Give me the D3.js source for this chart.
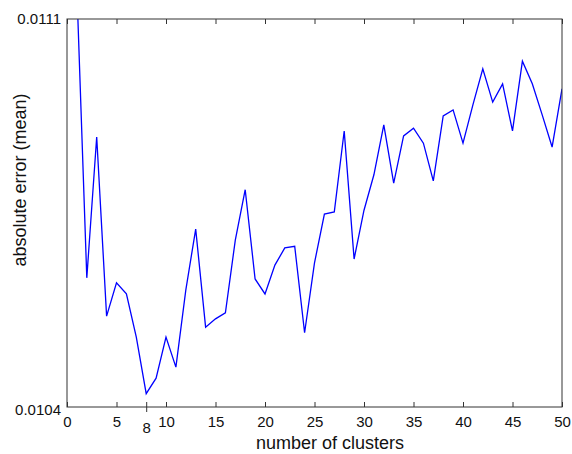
<!DOCTYPE html>
<html>
<head>
<meta charset="utf-8">
<script src="https://cdn.jsdelivr.net/npm/d3@7"></script>
<style>
  body { margin: 0; background: #fff; }
  text { font-family: 'Liberation Sans', Arial, sans-serif; fill: #111; }
</style>
</head>
<body>
<script>
// number of clusters
var clusters = d3.range(1, 51);
// absolute error (mean)
var meanError = [
  0.011152, 0.010633, 0.010887, 0.010564, 0.010624, 0.010604, 0.010526, 0.010424, 0.010452, 0.010526,
  0.010472, 0.010611, 0.010721, 0.010544, 0.010559, 0.010570, 0.010701, 0.010792, 0.010631, 0.010604,
  0.010656, 0.010687, 0.010690, 0.010534, 0.010660, 0.010748, 0.010752, 0.010898, 0.010667, 0.010755,
  0.010819, 0.010909, 0.010804, 0.010889, 0.010903, 0.010876, 0.010808, 0.010925, 0.010936, 0.010876,
  0.010945, 0.011010, 0.010950, 0.010983, 0.010898, 0.011024, 0.010983, 0.010927, 0.010869, 0.010974
];
var xTicks = [0, 5, 8, 10, 15, 20, 25, 30, 35, 40, 45, 50];
var yTicks = [0.0104, 0.0111];

drawChart();

function drawChart() {
  var w = 572, h = 454;
  var plotLeft = 67, plotRight = 562, plotTop = 19, plotBottom = 407;

  var x = d3.scaleLinear().domain([0, 50]).range([plotLeft, plotRight]);
  var y = d3.scaleLinear().domain([0.0104, 0.0111]).range([plotBottom, plotTop]);

  var svg = d3.select('body').append('svg')
    .attr('width', w)
    .attr('height', h);

  svg.append('clipPath').attr('id', 'plotclip')
    .append('rect')
      .attr('x', plotLeft).attr('y', plotTop)
      .attr('width', plotRight - plotLeft).attr('height', plotBottom - plotTop);

  // line
  var line = d3.line()
    .x(function(d, i) { return x(clusters[i]); })
    .y(function(d) { return y(d); });

  svg.append('path')
    .datum(meanError)
    .attr('clip-path', 'url(#plotclip)')
    .attr('fill', 'none')
    .attr('stroke', '#0000ff')
    .attr('stroke-width', 1.3)
    .attr('d', line);

  // box
  svg.append('rect')
    .attr('x', plotLeft).attr('y', plotTop)
    .attr('width', plotRight - plotLeft).attr('height', plotBottom - plotTop)
    .attr('fill', 'none')
    .attr('stroke', '#333')
    .attr('stroke-width', 1);

  // bottom axis, ticks point inward (8 is marked across the axis)
  var gx = svg.append('g')
    .attr('transform', 'translate(0,' + plotBottom + ')')
    .call(d3.axisBottom(x)
      .tickValues(xTicks)
      .tickSizeInner(-5)
      .tickSizeOuter(0)
      .tickPadding(9)
      .tickFormat(d3.format('d')));
  gx.select('.domain').remove();
  gx.selectAll('.tick line').attr('stroke', '#333');
  gx.selectAll('.tick text')
    .style('font-size', '15px')
    .attr('fill', '#111');
  gx.selectAll('.tick').filter(function(d) { return d === 8; })
    .each(function() {
      d3.select(this).select('line').attr('y1', 5).attr('y2', -5);
      d3.select(this).select('text').attr('y', 15);
    });

  // top ticks
  var gt = svg.append('g')
    .attr('transform', 'translate(0,' + plotTop + ')')
    .call(d3.axisTop(x)
      .tickValues(xTicks.filter(function(d) { return d !== 8; }))
      .tickSizeInner(-5)
      .tickSizeOuter(0)
      .tickFormat(''));
  gt.select('.domain').remove();
  gt.selectAll('.tick line').attr('stroke', '#333');

  // left axis: labels only
  var gy = svg.append('g')
    .attr('transform', 'translate(' + plotLeft + ',0)')
    .call(d3.axisLeft(y)
      .tickValues(yTicks)
      .tickSize(0)
      .tickPadding(6)
      .tickFormat(d3.format('.4f')));
  gy.select('.domain').remove();
  gy.selectAll('.tick text')
    .style('font-size', '15px')
    .attr('fill', '#111')
    .attr('dy', '0.3em');
  gy.selectAll('.tick').filter(function(d) { return d === 0.0104; })
    .select('text').attr('dy', '0.5em');

  // titles
  svg.append('text')
    .attr('x', 330)
    .attr('y', 449)
    .attr('text-anchor', 'middle')
    .style('font-size', '18px')
    .text('number of clusters');

  svg.append('text')
    .attr('transform', 'translate(26,180) rotate(-90)')
    .attr('text-anchor', 'middle')
    .style('font-size', '18px')
    .text('absolute error (mean)');
}
</script>
</body>
</html>
